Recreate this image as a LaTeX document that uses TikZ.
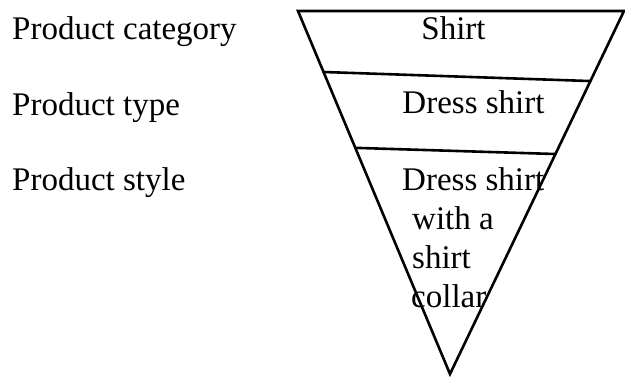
\documentclass[tikz,border=0pt]{standalone}
\usepackage{fontspec}
\setmainfont{Liberation Serif}
\usetikzlibrary{positioning,calc}
\tikzset{
  levelLabel/.style={anchor=base west,inner sep=0pt,
                     font=\fontsize{33}{39}\selectfont},
  tierText/.style={inner sep=0pt,font=\fontsize{33}{39}\selectfont},
  funnelLine/.style={line width=2.6pt,black,line join=miter,line cap=round},
}
\begin{document}
\begin{tikzpicture}[x=1pt,y=-1pt]
\useasboundingbox (0,0) rectangle (625,376);

% Funnel outline, narrowing downwards.
\coordinate (topL) at (298,11);
\coordinate (topR) at (624,11);
\coordinate (tip)  at (450,374);
\draw[funnelLine] (topL) -- (topR) -- (tip) -- cycle;

% Dividers between the tiers.
\coordinate (cutAL) at ($(topL)!0.168!(tip)$);
\coordinate (cutAR) at ($(topR)!0.193!(tip)$);
\coordinate (cutBL) at ($(topL)!0.377!(tip)$);
\coordinate (cutBR) at ($(topR)!0.394!(tip)$);
\draw[funnelLine] (cutAL) -- (cutAR);
\draw[funnelLine] (cutBL) -- (cutBR);

% Level names on the left.
\node[levelLabel] (lvlCat)   at (12,39)  {Product category};
\node[levelLabel] (lvlType)  at (12,115) {Product type};
\node[levelLabel] (lvlStyle) at (12,190) {Product style};

% Tier contents.
\node[tierText,anchor=base] (tierCat)  at (453.5,39)  {Shirt};
\node[tierText,anchor=base] (tierType) at (473.5,113) {Dress shirt};
\node[tierText,anchor=north west,align=left] (tierStyle) at (402,167.5)
  {Dress shirt\\ \hspace*{10pt}with a\\ \hspace*{10pt}shirt\\ \hspace*{9pt}collar};

\end{tikzpicture}
\end{document}
